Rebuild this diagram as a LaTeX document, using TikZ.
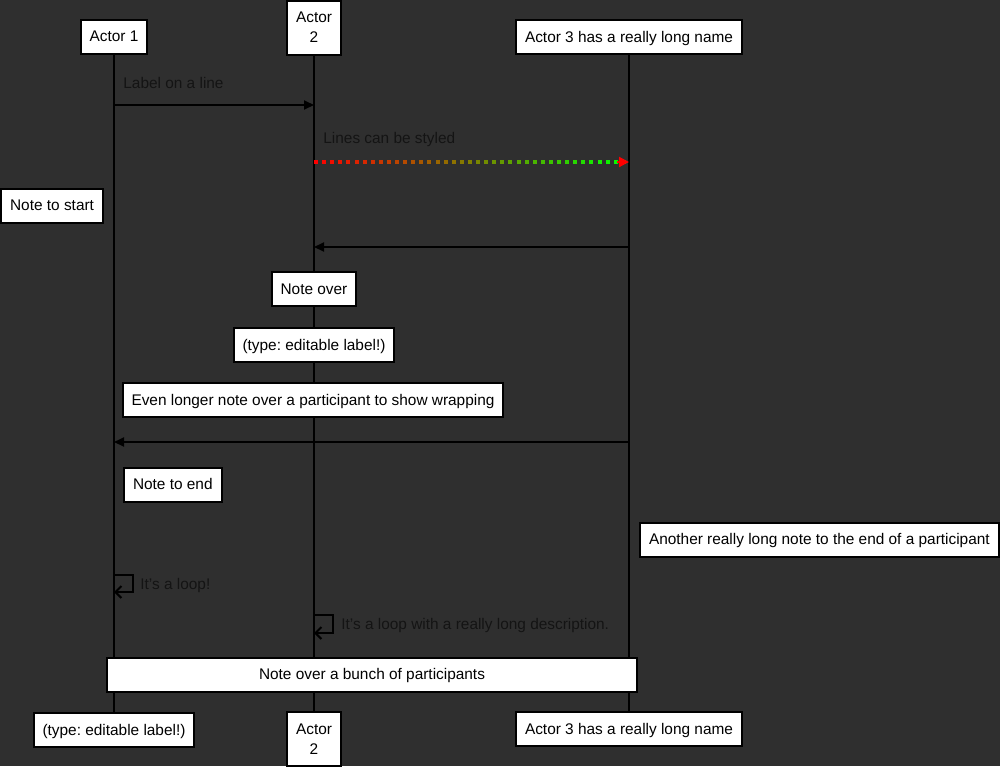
\documentclass[tikz,border=0pt]{standalone}
\usepackage{fontspec}
\setmainfont{Liberation Sans}
\usepackage{xcolor}
\usepackage{tikz}
\usetikzlibrary{arrows.meta, positioning, calc}
\frenchspacing
\definecolor{mybg}{RGB}{47,47,47}
\definecolor{mytext}{RGB}{20,20,20}
\tikzset{
  box/.style={rectangle, draw=black, fill=white, line width=1pt, align=center, minimum height=17pt, inner xsep=4.5pt, inner ysep=2pt, font=\fontsize{7.7}{10}\selectfont},
  actor/.style={box, text height=6.4pt, text depth=1pt},
  note/.style={actor},
  lifeline/.style={line width=1pt, color=black},
  msg/.style={-{Triangle[length=5pt, width=4.5pt]}, line width=1pt, color=black},
  selfmsg/.style={-{Straight Barb[length=3pt, width=6pt]}, line width=1pt, color=black},
  msglabel/.style={anchor=west, inner sep=0pt, text=mytext, font=\fontsize{7.7}{10}\selectfont}
}

\begin{document}
\begin{tikzpicture}[x=0.5pt, y=-0.5pt]
  \fill[mybg] (0,0) rectangle (1000,766);
  \useasboundingbox (0,0) rectangle (1000,766);

  \node [actor] (a1top) at (114,36.5) {Actor 1};
  \node [box, minimum height=27pt] (a2top) at (314,27.5) {Actor\\2};
  \node [actor] (a3top) at (629,37) {Actor 3 has a really long name};
  \node [actor] (a1bot) at (114,730) {(type: editable label!)};
  \node [box, minimum height=27pt] (a2bot) at (314,739) {Actor\\2};
  \node [actor] (a3bot) at (629,729) {Actor 3 has a really long name};

  \draw [lifeline] (a1top) -- (a1bot);
  \draw [lifeline] (a2top) -- (a2bot);
  \draw [lifeline] (a3top) -- (a3bot);

  \coordinate (m1) at (0,105);
  \draw [msg] (a1top |- m1) -- (a2top |- m1);
  \node [msglabel] (lbl1) at (123,82.5) {Label on a line};

  \coordinate (m2) at (0,162);
  \coordinate (s2a) at (a2top |- m2);
  \coordinate (s2b) at (a3top |- m2);
  \foreach \i in {0,...,38} {
    \pgfmathsetmacro{\p}{100-100*\i/38}
    \fill [red!\p!green] ($(s2a)+({8.1*\i},-2)$) rectangle ++(4,4);
  }
  \draw [red, line width=1pt, -{Triangle[length=5pt, width=5pt]}] ($(s2b)+(-12,0)$) -- (s2b);
  \node [msglabel] (lbl2) at (323,139.5) {Lines can be styled};

  \coordinate (m3) at (0,247);
  \draw [msg] (a3top |- m3) -- (a2top |- m3);

  \node [note, anchor=east] (nstart) at (104,205.5) {Note to start};
  \node [note] (nover) at (314,289) {Note over};
  \node [note] (ntype) at (314,345) {(type: editable label!)};
  \node [note] (nlong) at (313,400) {Even longer note over a participant to show wrapping};

  \coordinate (m4) at (0,442);
  \draw [msg] (a3top |- m4) -- (a1top |- m4);

  \node [note, anchor=west] (nend) at (123,484.5) {Note to end};
  \node [note, anchor=west] (nanother) at (639,539.5) {Another really long note to the end of a participant};

  \coordinate (lp1) at (a1top |- 0,575);
  \draw [selfmsg] (lp1) -- ++(19,0) -- ++(0,17) -- ++(-19,0);
  \node [msglabel] (lbl3) at (140,585.5) {It's a loop!};

  \coordinate (lp2) at (a2top |- 0,615);
  \draw [selfmsg] (lp2) -- ++(19,0) -- ++(0,18) -- ++(-19,0);
  \node [msglabel] (lbl4) at (341,625.5) {It's a loop with a really long description.};

  \node [note, minimum width=265pt] (nbunch) at (372,674.5) {Note over a bunch of participants};
\end{tikzpicture}
\end{document}
